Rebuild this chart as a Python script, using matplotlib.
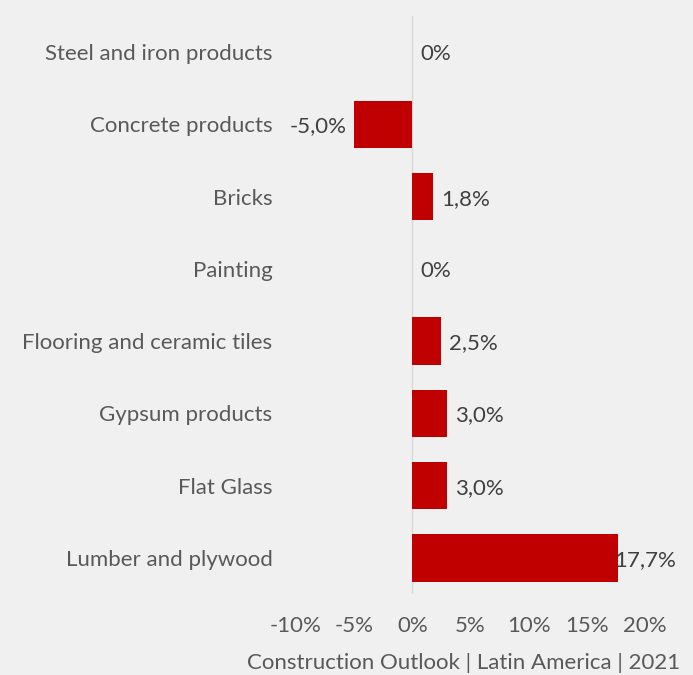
import matplotlib.pyplot as plt

# Data (percent change)
categories = ['Steel and iron products', 'Concrete products', 'Bricks', 'Painting',
              'Flooring and ceramic tiles', 'Gypsum products', 'Flat Glass',
              'Lumber and plywood']
values = [0.0, -5.0, 1.8, 0.0, 2.5, 3.0, 3.0, 17.7]
xticks = [-10, -5, 0, 5, 10, 15, 20]

bg = '#f0f0f0'
bar_color = '#c00000'
text_color = '#595959'
plt.rcParams['font.family'] = ['Lato', 'DejaVu Sans']

fig = plt.figure(figsize=(6.93, 6.75), dpi=100, facecolor=bg)
ax = fig.add_axes([296 / 693, 1 - 594 / 675, 349 / 693, 578 / 675], facecolor=bg)

ypos = list(range(len(categories)))
ax.barh(ypos, values, height=0.66, color=bar_color)
ax.axvline(0, color='#d9d9d9', lw=1, zorder=0)

ax.set_xlim(-10, 20)
ax.set_ylim(len(categories) - 0.5, -0.5)
ax.set_yticks(ypos)
ax.set_yticklabels(categories)
ax.set_xticks(xticks)
ax.set_xticklabels([f'{t}%' for t in xticks])
ax.tick_params(length=0, labelsize=16, labelcolor=text_color)
ax.tick_params(axis='y', pad=17)
ax.tick_params(axis='x', pad=16)
for s in ax.spines.values():
    s.set_visible(False)

# value labels
for y, v in zip(ypos, values):
    label = '0%' if v == 0 else f'{v:.1f}%'.replace('.', ',')
    if v < 0:
        off, ha = -8, 'right'
    elif v > 15:
        off, ha = -4, 'left'
    else:
        off, ha = 8, 'left'
    ax.annotate(label, (v, y), xytext=(off, -2), textcoords='offset pixels',
                ha=ha, va='center', fontsize=16, color='#404040',
                annotation_clip=False)

fig.text(680 / 693, 1 - 663 / 675, 'Construction Outlook | Latin America | 2021',
         ha='right', va='center', fontsize=16, color=text_color)

fig.savefig('out.png', dpi=100, facecolor=bg)
